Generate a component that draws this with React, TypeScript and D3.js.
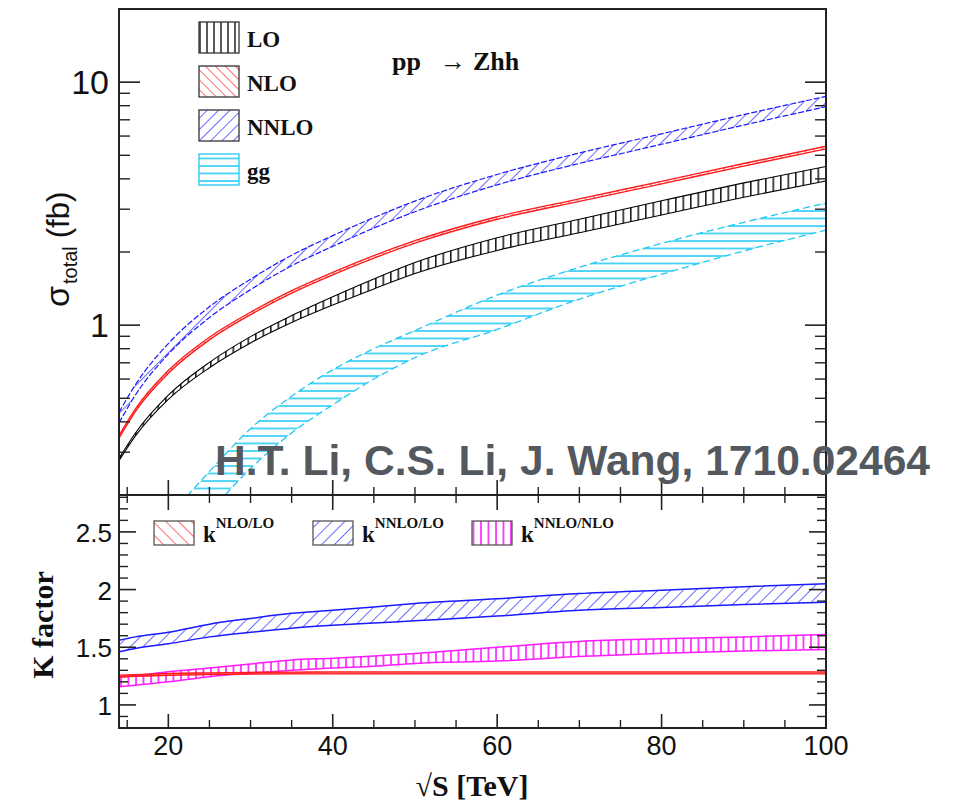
import React from "react";
import * as d3 from "d3";

// ---------- data ----------
const sqrtS = [14, 16, 20, 25, 30, 35, 40, 45, 50, 60, 70, 80, 90, 100];

const loLow = [0.277, 0.35, 0.495, 0.668, 0.845, 1.025, 1.21, 1.41, 1.63, 2.03, 2.4, 2.84, 3.36, 3.92];
const loHigh = [0.283, 0.36, 0.515, 0.703, 0.897, 1.095, 1.31, 1.55, 1.81, 2.29, 2.73, 3.25, 3.85, 4.5];

const nloLow = [0.343, 0.442, 0.634, 0.87, 1.104, 1.354, 1.61, 1.887, 2.174, 2.727, 3.23, 3.814, 4.515, 5.315];
const nloHigh = [0.351, 0.452, 0.65, 0.892, 1.13, 1.386, 1.65, 1.933, 2.226, 2.793, 3.31, 3.906, 4.625, 5.445];

const nnloLow = [0.396, 0.516, 0.76, 1.075, 1.4, 1.755, 2.11, 2.51, 2.93, 3.78, 4.63, 5.55, 6.66, 7.92];
const nnloHigh = [0.437, 0.569, 0.84, 1.19, 1.545, 1.94, 2.335, 2.77, 3.24, 4.17, 5.11, 6.13, 7.35, 8.74];

const ggLow = [0.07, 0.08, 0.11, 0.17, 0.257, 0.36, 0.47, 0.6, 0.735, 0.96, 1.28, 1.62, 2.02, 2.46];
const ggHigh = [0.1, 0.115, 0.162, 0.25, 0.375, 0.51, 0.655, 0.8, 0.95, 1.33, 1.73, 2.17, 2.65, 3.18];

const kNloLoLow = [1.242, 1.247, 1.257, 1.262, 1.267, 1.269, 1.27, 1.27, 1.27, 1.27, 1.27, 1.27, 1.27, 1.27];
const kNloLoHigh = [1.258, 1.263, 1.273, 1.278, 1.283, 1.285, 1.286, 1.286, 1.286, 1.286, 1.286, 1.286, 1.286, 1.286];

const kNnloLoLow = [1.46, 1.49, 1.53, 1.59, 1.63, 1.665, 1.69, 1.71, 1.73, 1.77, 1.82, 1.845, 1.87, 1.89];
const kNnloLoHigh = [1.56, 1.59, 1.63, 1.7, 1.75, 1.795, 1.82, 1.85, 1.88, 1.92, 1.965, 1.995, 2.025, 2.05];

const kNnloNloLow = [1.158, 1.17, 1.2, 1.245, 1.275, 1.3, 1.32, 1.335, 1.36, 1.38, 1.42, 1.447, 1.468, 1.48];
const kNnloNloHigh = [1.244, 1.255, 1.287, 1.32, 1.355, 1.39, 1.405, 1.425, 1.445, 1.5, 1.55, 1.573, 1.59, 1.61];

const xMajorTicks = [20, 40, 60, 80, 100];
const xMinorTicks = [15, 25, 30, 35, 45, 50, 55, 65, 70, 75, 85, 90, 95];
const yTopMajor = [1, 10];
const yTopMinor = [0.2, 0.3, 0.4, 0.5, 0.6, 0.7, 0.8, 0.9, 2, 3, 4, 5, 6, 7, 8, 9, 20];
const kMajor = [1, 1.5, 2, 2.5];
const kMinor = [0.9, 1.1, 1.2, 1.3, 1.4, 1.6, 1.7, 1.8, 1.9, 2.1, 2.2, 2.3, 2.4, 2.6, 2.7, 2.8];

const topLegend = ["LO", "NLO", "NNLO", "gg"];
const kLegend = ["NLO/LO", "NNLO/LO", "NNLO/NLO"];

// ---------- layout ----------
const L = 119, R = 826, T = 9, MID = 495, B = 728;

const x = d3.scaleLinear().domain([14, 100]).range([L, R]);
const yTop = d3.scaleLog().domain([0.2, 20]).range([MID, T]);
const yK = d3.scaleLinear().domain([0.8, 2.82]).range([B, MID]);

type Band = { lo: number[]; hi: number[] };

function bandPaths(b: Band, y: (v: number) => number) {
  const pts = sqrtS.map((s, i) => ({ s, lo: b.lo[i], hi: b.hi[i] }));
  const area = d3
    .area<any>()
    .x((d) => x(d.s))
    .y0((d) => y(d.lo))
    .y1((d) => y(d.hi))
    .curve(d3.curveMonotoneX);
  const lineLo = d3.line<any>().x((d) => x(d.s)).y((d) => y(d.lo)).curve(d3.curveMonotoneX);
  const lineHi = d3.line<any>().x((d) => x(d.s)).y((d) => y(d.hi)).curve(d3.curveMonotoneX);
  return { area: area(pts) || "", lo: lineLo(pts) || "", hi: lineHi(pts) || "" };
}

const BLUE = "#1a1aff";
const RED = "#ff1a1a";
const CYAN = "#1ec8f5";
const MAG = "#ff1aff";

export default function App() {
  const lo = bandPaths({ lo: loLow, hi: loHigh }, yTop);
  const nlo = bandPaths({ lo: nloLow, hi: nloHigh }, yTop);
  const nnlo = bandPaths({ lo: nnloLow, hi: nnloHigh }, yTop);
  const gg = bandPaths({ lo: ggLow, hi: ggHigh }, yTop);
  const k1 = bandPaths({ lo: kNloLoLow, hi: kNloLoHigh }, yK);
  const k2 = bandPaths({ lo: kNnloLoLow, hi: kNnloLoHigh }, yK);
  const k3 = bandPaths({ lo: kNnloNloLow, hi: kNnloNloHigh }, yK);

  const sans = "'Liberation Sans', Arial, sans-serif";
  const serif = "'Liberation Serif', 'Times New Roman', serif";
  const axisCol = "#222";

  const topLegendPat = ["pLOleg", "pNLO", "pNNLO", "pGG"];
  const kLegendPat = ["pNLOk", "pNNLOk", "pMAGk"];
  const kLegendX = [154, 313, 472];

  return (
    <svg width={955} height={806} style={{ position: "absolute", left: 0, top: 0, background: "#fff" }}>
      <defs>
        <clipPath id="clipTop">
          <rect x={L} y={T} width={R - L} height={MID - T} />
        </clipPath>
        <clipPath id="clipBot">
          <rect x={L} y={MID} width={R - L} height={B - MID} />
        </clipPath>
        <pattern id="pLO" patternUnits="userSpaceOnUse" width={7.5} height={10}>
          <line x1={0.8} y1={0} x2={0.8} y2={10} stroke="#000" strokeWidth={1.4} />
        </pattern>
        <pattern id="pLOleg" patternUnits="userSpaceOnUse" width={7} height={10} x={199}>
          <line x1={1} y1={0} x2={1} y2={10} stroke="#000" strokeWidth={1.3} />
        </pattern>
        <pattern id="pNLO" patternUnits="userSpaceOnUse" width={7} height={7} patternTransform="rotate(-45)">
          <line x1={0} y1={0} x2={0} y2={7} stroke={RED} strokeWidth={1.3} />
        </pattern>
        <pattern id="pNNLO" patternUnits="userSpaceOnUse" width={8} height={8} patternTransform="rotate(45)">
          <line x1={0} y1={0} x2={0} y2={8} stroke={BLUE} strokeWidth={1.3} />
        </pattern>
        <pattern id="pGG" patternUnits="userSpaceOnUse" width={10} height={7.5}>
          <line x1={0} y1={1} x2={10} y2={1} stroke={CYAN} strokeWidth={1.5} />
        </pattern>
        <pattern id="pNLOk" patternUnits="userSpaceOnUse" width={9} height={9} patternTransform="rotate(-45)">
          <line x1={0} y1={0} x2={0} y2={9} stroke={RED} strokeWidth={1.3} />
        </pattern>
        <pattern id="pNNLOk" patternUnits="userSpaceOnUse" width={9} height={9} patternTransform="rotate(45)">
          <line x1={0} y1={0} x2={0} y2={9} stroke={BLUE} strokeWidth={1.3} />
        </pattern>
        <pattern id="pMAGk" patternUnits="userSpaceOnUse" width={7.5} height={10}>
          <line x1={1} y1={0} x2={1} y2={10} stroke={MAG} strokeWidth={1.6} />
        </pattern>
      </defs>

      {/* upper panel bands */}
      <g clipPath="url(#clipTop)">
        <path d={gg.area} fill="url(#pGG)" />
        <path d={gg.lo} fill="none" stroke={CYAN} strokeWidth={1.3} strokeDasharray="7,4" />
        <path d={gg.hi} fill="none" stroke={CYAN} strokeWidth={1.3} strokeDasharray="7,4" />
        <path d={lo.area} fill="url(#pLO)" />
        <path d={lo.lo} fill="none" stroke="#000" strokeWidth={1.1} />
        <path d={lo.hi} fill="none" stroke="#000" strokeWidth={1.1} />
        <path d={nlo.area} fill="url(#pNLO)" />
        <path d={nlo.lo} fill="none" stroke={RED} strokeWidth={1.4} />
        <path d={nlo.hi} fill="none" stroke={RED} strokeWidth={1.4} />
        <path d={nnlo.area} fill="url(#pNNLO)" />
        <path d={nnlo.lo} fill="none" stroke={BLUE} strokeWidth={1.2} strokeDasharray="6,2" />
        <path d={nnlo.hi} fill="none" stroke={BLUE} strokeWidth={1.2} strokeDasharray="6,2" />
      </g>

      {/* lower panel bands */}
      <g clipPath="url(#clipBot)">
        <path d={k2.area} fill="url(#pNNLOk)" />
        <path d={k2.lo} fill="none" stroke={BLUE} strokeWidth={1.5} />
        <path d={k2.hi} fill="none" stroke={BLUE} strokeWidth={1.5} />
        <path d={k3.area} fill="url(#pMAGk)" />
        <path d={k3.lo} fill="none" stroke={MAG} strokeWidth={1.5} />
        <path d={k3.hi} fill="none" stroke={MAG} strokeWidth={1.5} />
        <path d={k1.area} fill={RED} fillOpacity={0.6} />
        <path d={k1.lo} fill="none" stroke={RED} strokeWidth={1.3} />
        <path d={k1.hi} fill="none" stroke={RED} strokeWidth={1.3} />
      </g>

      {/* frames */}
      <rect x={L} y={T} width={R - L} height={MID - T} fill="none" stroke={axisCol} strokeWidth={2} />
      <rect x={L} y={MID} width={R - L} height={B - MID} fill="none" stroke={axisCol} strokeWidth={2} />

      {/* x ticks */}
      {xMajorTicks.map((t) => (
        <g key={"xM" + t} stroke={axisCol} strokeWidth={1.6}>
          <line x1={x(t)} x2={x(t)} y1={MID - 15} y2={MID + 15} />
          <line x1={x(t)} x2={x(t)} y1={B} y2={B - 14} />
        </g>
      ))}
      {xMinorTicks.map((t) => (
        <g key={"xm" + t} stroke={axisCol} strokeWidth={1.4}>
          <line x1={x(t)} x2={x(t)} y1={MID - 8} y2={MID + 8} />
          <line x1={x(t)} x2={x(t)} y1={B} y2={B - 8} />
        </g>
      ))}
      {xMajorTicks.map((t) => (
        <text key={"xl" + t} x={x(t)} y={755} textAnchor="middle" fontFamily={sans} fontSize={27} fill="#111">
          {t}
        </text>
      ))}

      {/* upper y ticks */}
      {yTopMajor.map((t) => (
        <g key={"yM" + t} stroke={axisCol} strokeWidth={1.6}>
          <line x1={L} x2={L + 21} y1={yTop(t)} y2={yTop(t)} />
          <line x1={R} x2={R - 21} y1={yTop(t)} y2={yTop(t)} />
        </g>
      ))}
      {yTopMinor.map((t) => (
        <g key={"ym" + t} stroke={axisCol} strokeWidth={1.4}>
          <line x1={L} x2={L + 11} y1={yTop(t)} y2={yTop(t)} />
          <line x1={R} x2={R - 11} y1={yTop(t)} y2={yTop(t)} />
        </g>
      ))}
      {yTopMajor.map((t) => (
        <text key={"yl" + t} x={109} y={yTop(t) + 12} textAnchor="end" fontFamily={sans} fontSize={34} fill="#111">
          {t}
        </text>
      ))}

      {/* lower y ticks */}
      {kMajor.map((t) => (
        <g key={"kM" + t} stroke={axisCol} strokeWidth={1.6}>
          <line x1={L} x2={L + 17} y1={yK(t)} y2={yK(t)} />
          <line x1={R} x2={R - 17} y1={yK(t)} y2={yK(t)} />
        </g>
      ))}
      {kMinor.map((t) => (
        <g key={"km" + t} stroke={axisCol} strokeWidth={1.4}>
          <line x1={L} x2={L + 9} y1={yK(t)} y2={yK(t)} />
          <line x1={R} x2={R - 9} y1={yK(t)} y2={yK(t)} />
        </g>
      ))}
      {kMajor.map((t) => (
        <text key={"kl" + t} x={112} y={yK(t) + 10} textAnchor="end" fontFamily={sans} fontSize={26} fill="#111">
          {t}
        </text>
      ))}

      {/* axis titles */}
      <g transform="translate(69,307) rotate(-90)">
        <text fontFamily={sans} fill="#111">
          <tspan fontSize={34}>σ</tspan>
          <tspan fontSize={20} dy={8} dx={2}>total</tspan>
          <tspan fontSize={31} dy={-8} dx={8}>(fb)</tspan>
        </text>
      </g>
      <text transform="translate(53,625) rotate(-90)" textAnchor="middle" fontFamily={serif} fontWeight="bold" fontSize={30} fill="#111">
        K factor
      </text>
      <text x={472} y={796} textAnchor="middle" fontFamily={serif} fontWeight="bold" fontSize={30} fill="#111">
        √S [TeV]
      </text>

      {/* process label */}
      <text y={70} fontFamily={serif} fontWeight="bold" fontSize={26} fill="#111">
        <tspan x={392}>pp</tspan>
        <tspan x={440}>→</tspan>
        <tspan x={473}>Zhh</tspan>
      </text>

      {/* upper legend */}
      {topLegend.map((name, i) => {
        const yy = 22 + i * 44;
        return (
          <g key={name}>
            <rect x={199} y={yy} width={40} height={31} fill={`url(#${topLegendPat[i]})`}
              stroke={i === 3 ? CYAN : "#333"} strokeWidth={1.3} />
            <text x={247} y={yy + 25} fontFamily={serif} fontWeight="bold" fontSize={23} fill="#111">
              {name}
            </text>
          </g>
        );
      })}

      {/* lower legend */}
      {kLegend.map((sup, i) => (
        <g key={sup}>
          <rect x={kLegendX[i]} y={521} width={40} height={24} fill={`url(#${kLegendPat[i]})`} stroke="#555" strokeWidth={1.3} />
          <text x={kLegendX[i] + 49} y={542} fontFamily={serif} fontWeight="bold" fontSize={23} fill="#111">
            k
            <tspan fontSize={15} dy={-14}>{sup}</tspan>
          </text>
        </g>
      ))}

      {/* watermark */}
      <text x={215} y={475} fontFamily={sans} fontWeight="bold" fontSize={42} fill="#54595f"
        textLength={715} lengthAdjust="spacingAndGlyphs">
        H.T. Li, C.S. Li, J. Wang, 1710.02464
      </text>
    </svg>
  );
}
